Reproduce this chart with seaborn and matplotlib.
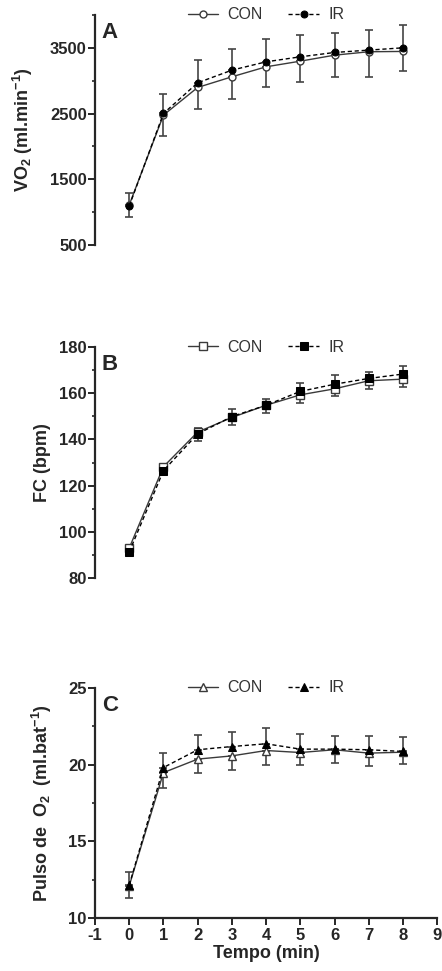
import numpy as np
import pandas as pd
import matplotlib.pyplot as plt
import seaborn as sns

# --- dados ---
tempo = [0, 1, 2, 3, 4, 5, 6, 7, 8]

vo2_con = [1110, 2476, 2897, 3059, 3211, 3297, 3388, 3440, 3445]
vo2_ir = [1093, 2501, 2968, 3160, 3287, 3363, 3429, 3465, 3500]
vo2_con_err = [180, 320, 330, 345, 314, 324, 330, 380, 305]
vo2_ir_err = [200, 295, 340, 325, 345, 330, 290, 300, 345]

fc_con = [93.0, 128.2, 143.2, 149.5, 154.8, 159.3, 161.9, 165.4, 166.1]
fc_ir = [91.3, 126.5, 142.4, 149.9, 154.8, 160.8, 163.9, 166.4, 168.3]
fc_con_err = [1.0, 1.0, 3.7, 3.4, 3.2, 3.5, 3.3, 3.6, 3.5]
fc_ir_err = [1.0, 1.0, 2.7, 3.2, 2.9, 3.7, 3.9, 3.0, 3.6]

po2_con = [12.1, 19.48, 20.36, 20.57, 20.92, 20.79, 20.97, 20.75, 20.81]
po2_ir = [12.14, 19.81, 20.97, 21.18, 21.36, 21.01, 21.01, 20.97, 20.86]
po2_con_err = [0.77, 0.98, 0.92, 0.95, 0.96, 0.83, 0.88, 0.85, 0.78]
po2_ir_err = [0.86, 0.98, 0.93, 0.94, 1.0, 0.96, 0.83, 0.87, 0.94]

sns.set_style("ticks")
plt.rcParams['font.family'] = ['Liberation Sans', 'DejaVu Sans']
plt.rcParams['mathtext.fontset'] = 'custom'
plt.rcParams['mathtext.rm'] = 'Liberation Sans:bold'
plt.rcParams['mathtext.bf'] = 'Liberation Sans:bold'
plt.rcParams['mathtext.default'] = 'bf'
plt.rcParams['axes.unicode_minus'] = False

fig = plt.figure(figsize=(4.42, 9.71), dpi=100)
ax_a = fig.add_axes([0.215, 0.7477, 0.774, 0.2369])
ax_b = fig.add_axes([0.215, 0.4047, 0.774, 0.2379])
ax_c = fig.add_axes([0.215, 0.0546, 0.774, 0.2369])

CON_COLOR = '#3a3a3a'
IR_COLOR = 'black'
ERR_COLOR = '#444444'


def painel(ax, con, ir, con_err, ir_err, marker, msize, letra, ylabel, ylim, major, minor, label_x):
    df = pd.DataFrame({'tempo': tempo * 2,
                       'valor': con + ir,
                       'grupo': ['CON'] * 9 + ['IR'] * 9})
    # barras de erro: CON para baixo, IR para cima (estilo Prism)
    ax.errorbar(tempo, con, yerr=[con_err, [0] * 9], fmt='none', ecolor=ERR_COLOR,
                elinewidth=1.2, capsize=3, capthick=1.2, zorder=1)
    ax.errorbar(tempo, ir, yerr=[[0] * 9, ir_err], fmt='none', ecolor=ERR_COLOR,
                elinewidth=1.2, capsize=3, capthick=1.2, zorder=1)
    sns.lineplot(data=df[df['grupo'] == 'CON'], x='tempo', y='valor', ax=ax,
                 color=CON_COLOR, linewidth=1.0, marker=marker, markersize=msize,
                 markerfacecolor='white', markeredgecolor=CON_COLOR, markeredgewidth=1.0,
                 label='CON', zorder=3)
    sns.lineplot(data=df[df['grupo'] == 'IR'], x='tempo', y='valor', ax=ax,
                 color=IR_COLOR, linewidth=1.0, linestyle=(0, (3, 2)), marker=marker,
                 markersize=msize, markerfacecolor=IR_COLOR, markeredgecolor=IR_COLOR,
                 label='IR', zorder=4)
    ax.set_xlim(-1, 9)
    ax.set_ylim(*ylim)
    ax.set_yticks(np.arange(ylim[0], ylim[1] + 0.01, major))
    ax.set_yticks(np.arange(ylim[0] + minor, ylim[1] + 0.01, major), minor=True)
    ax.set_ylabel(ylabel, fontsize=13, fontweight='bold')
    ax.yaxis.set_label_coords(label_x, 0.5)
    ax.set_xlabel('')
    ax.text(0.02, 0.925, letra, transform=ax.transAxes, fontsize=16,
            fontweight='bold', va='center', ha='left')
    for s in ['top', 'right']:
        ax.spines[s].set_visible(False)
    ax.spines['left'].set_linewidth(1.6)
    ax.spines['bottom'].set_linewidth(1.6)
    ax.tick_params(axis='y', which='major', length=5, width=1.4, labelsize=12, pad=1)
    ax.tick_params(axis='y', which='minor', length=2.5, width=1.2)
    ax.tick_params(axis='x', length=5, width=1.4, labelsize=12, pad=2)
    for t in ax.get_yticklabels() + ax.get_xticklabels():
        t.set_fontweight('bold')
    ax.legend(loc='center', bbox_to_anchor=(0.5, 1.0), ncol=2, frameon=False,
              fontsize=11.5, handlelength=1.9, columnspacing=1.6, handletextpad=0.6,
              labelcolor='#333333')


painel(ax_a, vo2_con, vo2_ir, vo2_con_err, vo2_ir_err, 'o', 5, 'A',
       r'VO$_2$ (ml.min$^{-1}$)', (500, 4000), 1000, 500, -0.175)
painel(ax_b, fc_con, fc_ir, fc_con_err, fc_ir_err, 's', 6, 'B',
       'FC (bpm)', (80, 180), 20, 10, -0.13)
painel(ax_c, po2_con, po2_ir, po2_con_err, po2_ir_err, '^', 6, 'C',
       r'Pulso de  O$_2$  (ml.bat$^{-1}$)', (10, 25), 5, 2.5, -0.12)

for ax in [ax_a, ax_b]:
    ax.spines['bottom'].set_visible(False)
    ax.set_xticks([])

ax_c.set_xticks(range(-1, 10))
for t in ax_c.get_xticklabels():
    t.set_fontweight('bold')
ax_c.set_xlabel('Tempo (min)', fontsize=13, fontweight='bold', labelpad=2)

fig.savefig('out.png', dpi=100)
